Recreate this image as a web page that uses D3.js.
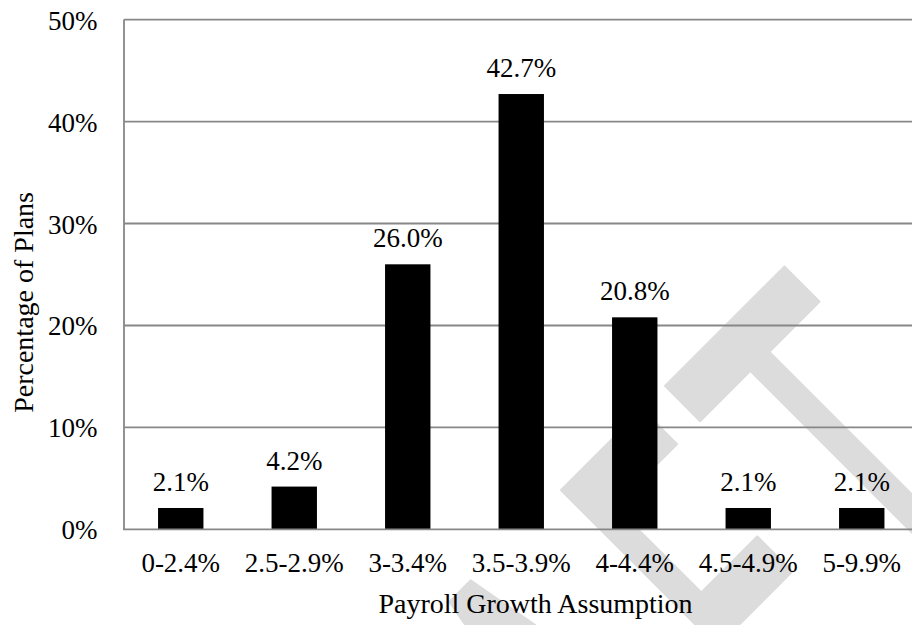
<!DOCTYPE html>
<html>
<head>
<meta charset="utf-8">
<script src="https://cdn.jsdelivr.net/npm/d3@7"></script>
<style>
  html, body { margin: 0; padding: 0; background: #fff; }
  svg { display: block; }
  .lbl { font-family: "Liberation Serif", "DejaVu Serif", serif; fill: #000; }
  .wm { font-family: "DejaVu Sans", sans-serif; }
</style>
</head>
<body>
<div id="chart"></div>
<script>
// Distribution of plans by payroll growth assumption
const categories = ["0-2.4%", "2.5-2.9%", "3-3.4%", "3.5-3.9%", "4-4.4%", "4.5-4.9%", "5-9.9%"];
const values = [2.1, 4.2, 26.0, 42.7, 20.8, 2.1, 2.1];
const yTicks = [0, 10, 20, 30, 40, 50];
const xTitle = "Payroll Growth Assumption";
const yTitle = "Percentage of Plans";
const watermark = "DRAFT";

const width = 912, height = 625;
const gridColor = "#878787";

const svg = d3.select("#chart").append("svg")
  .attr("width", width).attr("height", height);

svg.append("rect").attr("width", width).attr("height", height).attr("fill", "#fff");

// Large faint watermark across the lower right, behind the chart
const wmGroup = svg.append("g").attr("transform", "rotate(-45)");
const wmScaleX = 0.476;
const wmGap = 22;
const wmText = wmGroup.append("text")
  .attr("class", "wm")
  .attr("transform", `translate(0,1164) scale(${wmScaleX},1)`)
  .attr("x", 0)
  .attr("font-size", 576)
  .attr("fill", "#dcdcdc")
  .attr("stroke", "#dcdcdc")
  .attr("stroke-width", 3)
  .attr("stroke-linejoin", "round")
  .attr("vector-effect", "non-scaling-stroke")
  .text(watermark);
// place each letter from its own advance, last letter anchored on the diagonal
{
  const node = wmText.node();
  const n = watermark.length;
  const adv = Array.from(watermark, (c, i) => node.getSubStringLength(i, 1));
  const pos = new Array(n);
  pos[n - 1] = 198 / wmScaleX;
  for (let i = n - 2; i >= 0; i--) pos[i] = pos[i + 1] - wmGap / wmScaleX - adv[i];
  wmText.attr("x", pos.join(" "));
}

// Scales
const x = d3.scaleBand()
  .domain(categories)
  .range([124, 918.5])
  .paddingInner(0.6)
  .paddingOuter(0.3);

const y = d3.scaleLinear()
  .domain([0, 50])
  .range([529.4, 19.6]);

// Horizontal gridlines
svg.append("g")
  .selectAll("line")
  .data(yTicks.filter(d => d > 0))
  .join("line")
  .attr("x1", 124).attr("x2", width)
  .attr("y1", d => y(d)).attr("y2", d => y(d))
  .attr("stroke", gridColor)
  .attr("stroke-width", 1.8);

// Bars
svg.append("g")
  .selectAll("rect")
  .data(values)
  .join("rect")
  .attr("x", (d, i) => x(categories[i]))
  .attr("width", x.bandwidth())
  .attr("y", d => y(d))
  .attr("height", d => y(0) - y(d))
  .attr("fill", "#000");

// Axis lines
svg.append("line")
  .attr("x1", 124).attr("x2", 124)
  .attr("y1", y(50)).attr("y2", y(0))
  .attr("stroke", gridColor).attr("stroke-width", 1.8);
svg.append("line")
  .attr("x1", 123).attr("x2", width)
  .attr("y1", y(0)).attr("y2", y(0))
  .attr("stroke", gridColor).attr("stroke-width", 1.8);

// Y tick labels
svg.append("g")
  .selectAll("text")
  .data(yTicks)
  .join("text")
  .attr("class", "lbl")
  .attr("x", 97.5)
  .attr("y", d => y(d) + 10)
  .attr("text-anchor", "end")
  .attr("font-size", 27)
  .text(d => d + "%");

// X tick labels
svg.append("g")
  .selectAll("text")
  .data(categories)
  .join("text")
  .attr("class", "lbl")
  .attr("x", d => x(d) + x.bandwidth() / 2)
  .attr("y", 572)
  .attr("text-anchor", "middle")
  .attr("font-size", 27)
  .text(d => d);

// Value labels above bars
svg.append("g")
  .selectAll("text")
  .data(values)
  .join("text")
  .attr("class", "lbl")
  .attr("x", (d, i) => x(categories[i]) + x.bandwidth() / 2)
  .attr("y", d => y(d) - 17)
  .attr("text-anchor", "middle")
  .attr("font-size", 27)
  .text(d => d.toFixed(1) + "%");

// Axis titles
svg.append("text")
  .attr("class", "lbl")
  .attr("x", 535.5)
  .attr("y", 613)
  .attr("text-anchor", "middle")
  .attr("font-size", 28)
  .text(xTitle);

svg.append("text")
  .attr("class", "lbl")
  .attr("transform", "translate(33,302.4) rotate(-90)")
  .attr("text-anchor", "middle")
  .attr("font-size", 28)
  .text(yTitle);
</script>
</body>
</html>
